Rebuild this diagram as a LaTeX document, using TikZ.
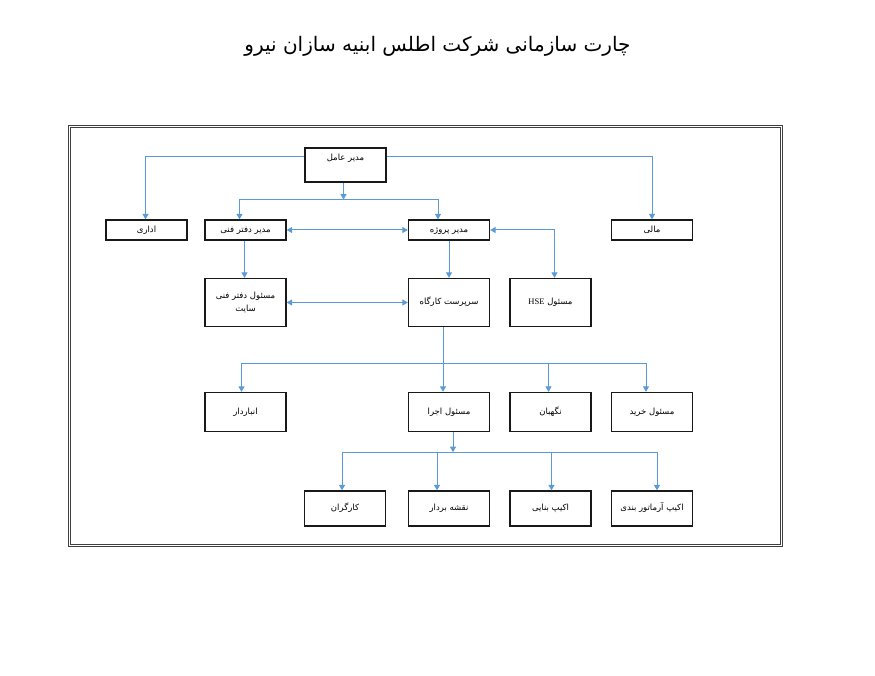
\documentclass[tikz,border=0pt]{standalone}
\usepackage{fontspec}
\newfontfamily\arabicfont[Script=Arabic]{DejaVu Sans}
\newfontfamily\latinfont{Liberation Serif}
\TeXXeTstate=1
\usetikzlibrary{arrows.meta}
\definecolor{linkblue}{RGB}{91,155,213}

\tikzset{
  post/.style={draw=black!90, line width=1.3pt, fill=white, minimum width=81pt,
    inner sep=2pt, align=center, text height=7pt, text depth=2.5pt,
    font=\arabicfont\fontsize{8.5}{12.5}\selectfont},
  link/.style={linkblue, line width=1pt, -{Triangle[width=6pt,length=5.5pt]}},
  twolink/.style={link, {Triangle[width=6pt,length=5.5pt]}-{Triangle[width=6pt,length=5.5pt]}},
}

\begin{document}
\begin{tikzpicture}[x=1pt,y=-1pt]
\useasboundingbox (0,0) rectangle (875,676);

% The title
\node[font=\arabicfont\fontsize{20}{24}\selectfont] (title) at (437.5,46)
  {\beginR چارت سازمانی شرکت اطلس ابنیه سازان نیرو\endR};

% The frame
\draw[black!75, line width=1.3pt, double, double distance=1.2pt] (69.5,126.5) rectangle (781.5,545.5);

% The boxes
\node[post, minimum height=34pt, text height=8pt, text depth=16pt] (ceo) at (345.5,165) {\beginR مدیر عامل\endR};

\node[post, minimum height=20pt] (admin) at (146.5,230) {\beginR اداری\endR};
\node[post, minimum height=20pt] (techmgr) at (245.5,230) {\beginR مدیر دفتر فنی\endR};
\node[post, minimum height=20pt] (projmgr) at (449,230) {\beginR مدیر پروژه\endR};
\node[post, minimum height=20pt] (finance) at (652,230) {\beginR مالی\endR};

\node[post, minimum height=48pt, text height={}, text depth={}] (sitetech) at (245.5,302.5)
  {\beginR مسئول دفتر فنی\endR\\\beginR سایت\endR};
\node[post, minimum height=48pt] (super) at (449,302.5) {\beginR سرپرست کارگاه\endR};
\node[post, minimum height=48pt] (hse) at (550.5,302.5) {\beginR مسئول \beginL{\latinfont HSE}\endL\endR};

\node[post, minimum height=39pt] (store) at (245.5,412) {\beginR انباردار\endR};
\node[post, minimum height=39pt] (exec) at (449,412) {\beginR مسئول اجرا\endR};
\node[post, minimum height=39pt] (guard) at (550.5,412) {\beginR نگهبان\endR};
\node[post, minimum height=39pt] (buyer) at (652,412) {\beginR مسئول خرید\endR};

\node[post, minimum height=35pt] (workers) at (345,508.5) {\beginR کارگران\endR};
\node[post, minimum height=35pt] (surveyor) at (449,508.5) {\beginR نقشه بردار\endR};
\node[post, minimum height=35pt] (masons) at (550.5,508.5) {\beginR اکیپ بنایی\endR};
\node[post, minimum height=35pt] (rebar) at (652,508.5) {\beginR اکیپ آرماتور بندی\endR};

% The connectors
\coordinate (split1) at ([xshift=-2pt,yshift=-17pt]ceo.south);
\coordinate (split2) at ([xshift=-6pt,yshift=-36pt]super.south);
\coordinate (split3) at ([xshift=4pt,yshift=-20pt]exec.south);

\draw[link] ([yshift=8pt]ceo.west) -| ([xshift=-1pt]admin.north);
\draw[link] ([yshift=8pt]ceo.east) -| (finance.north);
\draw[link] ([xshift=-2pt]ceo.south) -- (split1);
\draw[link] (split1) -| ([xshift=-6pt]techmgr.north);
\draw[link] (split1) -| ([xshift=-11pt]projmgr.north);

\draw[twolink] (techmgr) -- (projmgr);
\draw[twolink] (projmgr.east) -| ([xshift=4pt]hse.north);
\draw[link] ([xshift=-1pt]techmgr.south) -- ([xshift=-1pt]sitetech.north);
\draw[link] (projmgr.south) -- (super.north);
\draw[twolink] (sitetech) -- (super);

\draw[link] ([xshift=-6pt]super.south) -- ([xshift=-6pt]exec.north);
\foreach \n/\dx in {store/-4, guard/-2, buyer/-6}{
  \draw[link] (split2) -| ([xshift=\dx pt]\n.north);
}

\draw[link] ([xshift=4pt]exec.south) -- (split3);
\foreach \n/\dx in {workers/-3, surveyor/-12, masons/1, rebar/5}{
  \draw[link] (split3) -| ([xshift=\dx pt]\n.north);
}

\end{tikzpicture}
\end{document}
